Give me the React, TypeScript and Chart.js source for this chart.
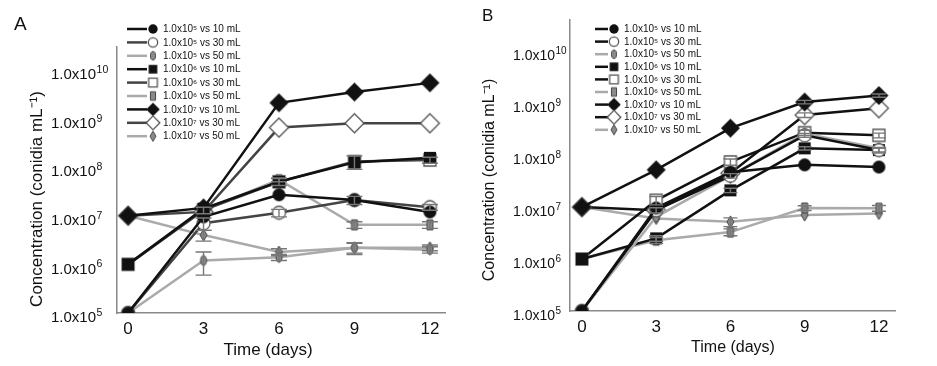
import React, { useEffect, useRef } from 'react';
import { Chart, registerables } from 'chart.js';
Chart.register(...registerables);

// ---------------- data ----------------
const days = [0, 3, 6, 9, 12];
const xTickValues = [0, 3, 6, 9, 12];
const yTickExponents = [5, 6, 7, 8, 9, 10];
const inocula = ['1.0x10⁵', '1.0x10⁶', '1.0x10⁷'];
const volumes = ['10 mL', '30 mL', '50 mL'];

// Panel A
const a5_10 = [1e5, 9.5e6, 2.7e7, 2.1e7, 1.2e7];
const a5_30 = [1e5, 7e6, 1.15e7, 2.1e7, 1.5e7];
const a5_50 = [1e5, 1.2e6, 1.4e6, 2.2e6, 2.0e6];
const a6_10 = [1e6, 1.4e7, 5e7, 1.25e8, 1.55e8];
const a6_30 = [1e6, 1.3e7, 5e7, 1.3e8, 1.4e8];
const a6_50 = [1e6, 1.3e7, 5.5e7, 6.5e6, 6.5e6];
const a7_10 = [1e7, 1.45e7, 2.1e9, 3.5e9, 5.4e9];
const a7_30 = [1e7, 1.2e7, 6.5e8, 8e8, 8e8];
const a7_50 = [1e7, 4e6, 1.8e6, 2.2e6, 2.2e6];
// Panel A standard deviations
const aErr5_10 = [0, 0, 0, 0, 0];
const aErr5_30 = [0, 2e6, 2e6, 4e6, 2e6];
const aErr5_50 = [0, 6e5, 2e5, 6e5, 3e5];
const aErr6_10 = [0, 0, 0, 0, 0];
const aErr6_30 = [0, 2e6, 8e6, 4e7, 2e7];
const aErr6_50 = [0, 0, 5e6, 1e6, 1e6];
const aErr7_10 = [0, 0, 0, 0, 0];
const aErr7_30 = [0, 0, 0, 0, 0];
const aErr7_50 = [0, 1e6, 3e5, 5e5, 3e5];

// Panel B
const b5_10 = [1e5, 9.6e6, 4.7e7, 6.5e7, 5.9e7];
const b5_30 = [1e5, 8.7e6, 4e7, 2.4e8, 1.25e8];
const b5_50 = [1e5, 6.5e6, 4e7, 2.6e8, 1.35e8];
const b6_10 = [1e6, 2.5e6, 2.1e7, 1.35e8, 1.25e8];
const b6_30 = [1e6, 1.35e7, 7.4e7, 2.7e8, 2.4e8];
const b6_50 = [1e6, 2.3e6, 3.3e6, 9.6e6, 9.5e6];
const b7_10 = [1e7, 5.2e7, 3.3e8, 1.05e9, 1.4e9];
const b7_30 = [1e7, 8.7e6, 4.5e7, 5.9e8, 8e8];
const b7_50 = [1e7, 6e6, 5.2e6, 7e6, 7.5e6];
// Panel B standard deviations
const bErr5_10 = [0, 0, 0, 0, 0];
const bErr5_30 = [0, 1e6, 4e6, 2e7, 1e7];
const bErr5_50 = [0, 0, 0, 0, 0];
const bErr6_10 = [0, 3e5, 2e6, 1e7, 1.5e7];
const bErr6_30 = [0, 2.5e6, 1e7, 3e7, 2.5e7];
const bErr6_50 = [0, 3e5, 5e5, 1e6, 1.2e6];
const bErr7_10 = [0, 0, 0, 8e7, 1e8];
const bErr7_30 = [0, 0, 0, 6e7, 0];
const bErr7_50 = [0, 0, 1e6, 0, 0];

const seriesA = [a5_10, a5_30, a5_50, a6_10, a6_30, a6_50, a7_10, a7_30, a7_50];
const errsA = [aErr5_10, aErr5_30, aErr5_50, aErr6_10, aErr6_30, aErr6_50, aErr7_10, aErr7_30, aErr7_50];
const seriesB = [b5_10, b5_30, b5_50, b6_10, b6_30, b6_50, b7_10, b7_30, b7_50];
const errsB = [bErr5_10, bErr5_30, bErr5_50, bErr6_10, bErr6_30, bErr6_50, bErr7_10, bErr7_30, bErr7_50];

const lineColorsA = ['#111111', '#444444', '#aaaaaa'];
const lineColorsB = ['#111111', '#111111', '#aaaaaa'];

// ---------------- helpers ----------------
const SUP: Record<string, string> = { '0': '⁰', '1': '¹', '2': '²', '3': '³', '4': '⁴', '5': '⁵', '6': '⁶', '7': '⁷', '8': '⁸', '9': '⁹', '-': '⁻' };
const sup = (s: string) => s.split('').map((c) => SUP[c] || c).join('');
const FONT = "'Liberation Sans', Arial, sans-serif";

type Kind = 'circle' | 'square' | 'diamond';
type Variant = 'filled' | 'open' | 'small';

function makeMarker(kind: Kind, variant: Variant, scale = 1): HTMLCanvasElement {
  const c = document.createElement('canvas');
  let w = 13, h = 13;
  if (kind === 'circle') { w = variant === 'small' ? 6 : 13; h = variant === 'small' ? 10 : 13; }
  if (kind === 'square') { w = variant === 'small' ? 6 : 12; h = variant === 'small' ? 10 : 12; }
  if (kind === 'diamond') { w = variant === 'small' ? 7 : 19; h = variant === 'small' ? 12 : 19; }
  w *= scale; h *= scale;
  const pad = 2;
  c.width = Math.ceil(w + pad * 2);
  c.height = Math.ceil(h + pad * 2);
  const ctx = c.getContext('2d')!;
  const cx = c.width / 2, cy = c.height / 2;
  ctx.beginPath();
  if (kind === 'circle') ctx.ellipse(cx, cy, w / 2, h / 2, 0, 0, Math.PI * 2);
  else if (kind === 'square') ctx.rect(cx - w / 2, cy - h / 2, w, h);
  else {
    ctx.moveTo(cx, cy - h / 2);
    ctx.lineTo(cx + w / 2, cy);
    ctx.lineTo(cx, cy + h / 2);
    ctx.lineTo(cx - w / 2, cy);
    ctx.closePath();
  }
  if (variant === 'filled') {
    ctx.fillStyle = '#111';
    ctx.fill();
  } else if (variant === 'open') {
    ctx.fillStyle = '#fff';
    ctx.fill();
    ctx.lineWidth = 1.3;
    ctx.strokeStyle = '#555';
    ctx.stroke();
  } else {
    ctx.fillStyle = '#8a8a8a';
    ctx.fill();
    ctx.lineWidth = 1;
    ctx.strokeStyle = '#444';
    ctx.stroke();
  }
  return c;
}

const kinds: Kind[] = ['circle', 'square', 'diamond'];
const variants: Variant[] = ['filled', 'open', 'small'];

type PanelCfg = {
  letter: string; letterX: number; letterY: number; letterSize: number;
  series: number[][]; errs: number[][]; colors: string[];
  xMin: number; xMax: number; yMax: number;
  yW: number; xH: number; padTop: number; padRight: number;
  yTickSize: number; yExpSize: number; yLabelX: number; yLabelDy: number; xTickSize: number;
  yTitleX: number; yTitleY: number; titleSize: number;
  xTitleX: number; xTitleY: number;
  legX: number; legY: number; legDy: number; legLine: number; legFont: number;
  capHalf: number;
  width: number;
};

const panelA: PanelCfg = {
  letter: 'A', letterX: 14, letterY: 25, letterSize: 19,
  series: seriesA, errs: errsA, colors: lineColorsA,
  xMin: -0.44, xMax: 12.6, yMax: Math.pow(10, 10.47),
  yW: 117, xH: 53, padTop: 47, padRight: 23,
  yTickSize: 15, yExpSize: 10.5, yLabelX: 51, yLabelDy: 4, xTickSize: 17,
  yTitleX: 37, yTitleY: 199, titleSize: 17,
  xTitleX: 268, xTitleY: 350,
  legX: 127, legY: 29, legDy: 13.4, legLine: 20, legFont: 10,
  capHalf: 8,
  width: 468,
};

const panelB: PanelCfg = {
  letter: 'B', letterX: 14, letterY: 16, letterSize: 17,
  series: seriesB, errs: errsB, colors: lineColorsB,
  xMin: -0.48, xMax: 12.65, yMax: Math.pow(10, 10.6),
  yW: 102, xH: 55, padTop: 20, padRight: 42,
  yTickSize: 14, yExpSize: 10, yLabelX: 45, yLabelDy: 4, xTickSize: 17,
  yTitleX: 22, yTitleY: 180, titleSize: 16,
  xTitleX: 265, xTitleY: 348,
  legX: 127, legY: 29, legDy: 12.6, legLine: 13, legFont: 10,
  capHalf: 7,
  width: 469,
};

function Panel({ cfg, left }: { cfg: PanelCfg; left: number }) {
  const ref = useRef<HTMLCanvasElement | null>(null);
  useEffect(() => {
    if (!ref.current) return;
    const markers = cfg.series.map((_, i) => makeMarker(kinds[Math.floor(i / 3)], variants[i % 3]));
    const legendMarkers = cfg.series.map((_, i) =>
      makeMarker(kinds[Math.floor(i / 3)], variants[i % 3], variants[i % 3] === 'small' ? 0.85 : 0.72)
    );
    const labels = cfg.series.map((_, i) => `${inocula[Math.floor(i / 3)]} vs ${volumes[i % 3]}`);
    const datasets = cfg.series.map((vals, i) => ({
      label: labels[i],
      data: days.map((d, j) => ({ x: d, y: vals[j] })),
      borderColor: cfg.colors[i % 3],
      backgroundColor: cfg.colors[i % 3],
      borderWidth: 2.5,
      pointStyle: markers[i],
      pointRadius: 7,
      tension: 0,
      fill: false,
    }));

    const extras = {
      id: 'extras',
      afterDatasetsDraw(chart: any) {
        const ctx = chart.ctx;
        const xs = chart.scales.x, ys = chart.scales.y;
        ctx.save();
        ctx.strokeStyle = '#777';
        ctx.lineWidth = 1.4;
        cfg.errs.forEach((errArr, i) => {
          errArr.forEach((e, j) => {
            if (!e) return;
            const v = cfg.series[i][j];
            const x = xs.getPixelForValue(days[j]);
            const y1 = ys.getPixelForValue(v + e);
            const y2 = ys.getPixelForValue(Math.max(v - e, v * 0.05));
            const c = cfg.capHalf;
            ctx.beginPath();
            ctx.moveTo(x, y1); ctx.lineTo(x, y2);
            ctx.moveTo(x - c, y1); ctx.lineTo(x + c, y1);
            ctx.moveTo(x - c, y2); ctx.lineTo(x + c, y2);
            ctx.stroke();
          });
        });
        ctx.restore();
      },
      afterDraw(chart: any) {
        const ctx = chart.ctx;
        const ys = chart.scales.y;
        ctx.save();
        ctx.fillStyle = '#111';
        // y tick labels with superscript exponents
        ctx.textAlign = 'left';
        ctx.textBaseline = 'alphabetic';
        yTickExponents.forEach((e) => {
          const ty = ys.getPixelForValue(Math.pow(10, e));
          const base = ty + cfg.yLabelDy + cfg.yTickSize * 0.358;
          ctx.font = `${cfg.yTickSize}px ${FONT}`;
          const t = '1.0x10';
          ctx.fillText(t, cfg.yLabelX, base);
          const w = ctx.measureText(t).width;
          ctx.font = `${cfg.yExpSize}px ${FONT}`;
          ctx.fillText(String(e), cfg.yLabelX + w + 0.5, base - cfg.yTickSize * 0.42);
        });
        // panel letter
        ctx.font = `${cfg.letterSize}px ${FONT}`;
        ctx.textAlign = 'left';
        ctx.textBaseline = 'middle';
        ctx.fillText(cfg.letter, cfg.letterX, cfg.letterY);
        // y title
        ctx.save();
        ctx.translate(cfg.yTitleX, cfg.yTitleY);
        ctx.rotate(-Math.PI / 2);
        ctx.font = `${cfg.titleSize}px ${FONT}`;
        ctx.textAlign = 'center';
        ctx.textBaseline = 'middle';
        ctx.fillText(`Concentration (conidia mL${sup('-1')})`, 0, 0);
        ctx.restore();
        // x title
        ctx.font = `${cfg.titleSize}px ${FONT}`;
        ctx.textAlign = 'center';
        ctx.textBaseline = 'middle';
        ctx.fillText('Time (days)', cfg.xTitleX, cfg.xTitleY);
        // legend
        ctx.font = `${cfg.legFont}px ${FONT}`;
        ctx.textAlign = 'left';
        chart.data.datasets.forEach((ds: any, i: number) => {
          const y = cfg.legY + i * cfg.legDy;
          ctx.strokeStyle = ds.borderColor;
          ctx.lineWidth = 2.5;
          ctx.beginPath();
          ctx.moveTo(cfg.legX, y);
          ctx.lineTo(cfg.legX + cfg.legLine, y);
          ctx.stroke();
          const m = legendMarkers[i];
          const mx = cfg.legX + cfg.legLine + 6;
          ctx.drawImage(m, mx - m.width / 2, y - m.height / 2);
          ctx.fillStyle = '#111';
          ctx.fillText(ds.label, mx + 10, y + 0.5);
        });
        ctx.restore();
      },
    };

    const chart = new Chart(ref.current, {
      type: 'line',
      data: { datasets },
      options: {
        animation: false,
        responsive: false,
        maintainAspectRatio: false,
        layout: { padding: { top: cfg.padTop, right: cfg.padRight, left: 0, bottom: 0 } },
        plugins: { legend: { display: false }, tooltip: { enabled: false } },
        scales: {
          x: {
            type: 'linear',
            min: cfg.xMin,
            max: cfg.xMax,
            grid: { display: false, drawTicks: false },
            border: { display: true, color: '#888', width: 1.5 },
            afterBuildTicks: (s: any) => { s.ticks = xTickValues.map((v) => ({ value: v })); },
            afterFit: (s: any) => { s.height = cfg.xH; },
            ticks: {
              padding: 6,
              color: '#111',
              font: { family: FONT, size: cfg.xTickSize },
              maxRotation: 0,
              callback: (v: any) => String(v),
            },
          },
          y: {
            type: 'logarithmic',
            min: 1e5,
            max: cfg.yMax,
            grid: { display: false, drawTicks: false },
            border: { display: true, color: '#888', width: 1.5 },
            afterBuildTicks: (s: any) => { s.ticks = yTickExponents.map((e) => ({ value: Math.pow(10, e) })); },
            afterFit: (s: any) => { s.width = cfg.yW; },
            ticks: { display: false },
          },
        },
      } as any,
      plugins: [extras],
    });
    return () => chart.destroy();
  }, [cfg]);
  return (
    <canvas
      ref={ref}
      width={cfg.width}
      height={366}
      style={{ position: 'absolute', left, top: 0, width: cfg.width, height: 366 }}
    />
  );
}

export default function App() {
  return (
    <div style={{ position: 'absolute', left: 0, top: 0, width: 937, height: 366, background: '#fff', overflow: 'hidden' }}>
      <Panel cfg={panelA} left={0} />
      <Panel cfg={panelB} left={468} />
    </div>
  );
}
